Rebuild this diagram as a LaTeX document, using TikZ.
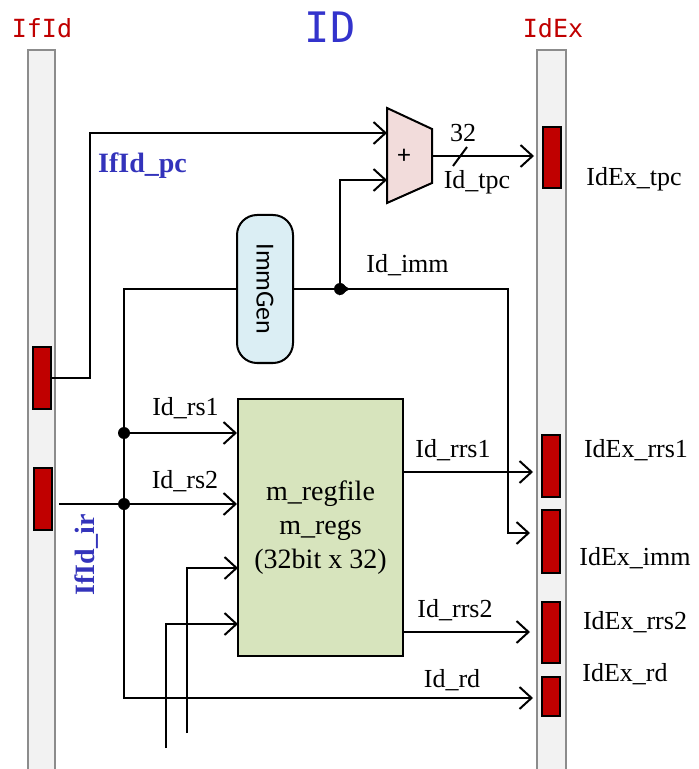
\documentclass[tikz,border=0pt]{standalone}
\usepackage{fontspec}
\setmainfont{Liberation Serif}
\newfontfamily\monof{DejaVu Sans Mono}
\newfontfamily\calf{Carlito}
\usetikzlibrary{arrows.meta,calc}
\definecolor{regred}{HTML}{C00000}
\definecolor{rfgreen}{HTML}{D7E4BD}
\definecolor{immblue}{HTML}{DBEEF4}
\definecolor{addpink}{HTML}{F2DCDB}
\definecolor{barfill}{HTML}{F2F2F2}
\definecolor{barline}{HTML}{8C8C8C}
\definecolor{lblblue}{HTML}{3333BB}
\definecolor{titleblue}{HTML}{3333CC}
\begin{document}
\begin{tikzpicture}[x=0.5pt,y=-0.5pt,
  wire/.style={line width=1pt},
  arr/.style={wire,-{Straight Barb[length=6pt,width=11pt]}},
  bar/.style={draw=barline,fill=barfill,line width=1pt},
  reg/.style={draw=black,fill=regred,line width=1pt,minimum width=9pt,inner sep=0pt},
  lbl/.style={font=\fontsize{13}{15}\selectfont,inner sep=0pt},
  bluelbl/.style={font=\bfseries\fontsize{14}{16}\selectfont,text=lblblue,inner sep=0pt},
  dot/.style={circle,fill=black,minimum size=6pt,inner sep=0pt},
  title/.style={font=\monof\fontsize{12.5}{14}\selectfont,text=regred,inner sep=0pt}
]
\useasboundingbox (0,0) rectangle (699,769);
% pipeline bars
\draw[bar] (28,50) rectangle (55,785);
\draw[bar] (537,50) rectangle (566,785);
% titles
\node[title] (tifid) at (42,28) {IfId};
\node[title] (tidex) at (553,28) {IdEx};
\node[font=\monof\fontsize{21}{24}\selectfont,text=titleblue,inner sep=0pt] (tid) at (330,27) {ID};
% registers
\node[reg,minimum height=31pt] (ifpc) at (42,378) {};
\node[reg,minimum height=31pt] (ifir) at (43,499) {};
\node[reg,minimum height=30.5pt] (extpc) at (551.5,157.5) {};
\node[reg,minimum height=31pt] (exrrs1) at (551,466) {};
\node[reg,minimum height=31.5pt] (eximm) at (551,541.5) {};
\node[reg,minimum height=30.5pt] (exrrs2) at (551,632.5) {};
\node[reg,minimum height=19.5pt] (exrd) at (551,696.5) {};
% register file
\node[draw,fill=rfgreen,line width=1pt,minimum width=82.5pt,minimum height=128.5pt,
  align=center,font=\fontsize{14}{17}\selectfont] (rf) at (320.5,527.5)
  {m\_regfile\\m\_regs\\(32bit x 32)};
% ImmGen
\node[draw,fill=immblue,line width=1pt,rounded corners=10pt,minimum width=28pt,
  minimum height=74pt,inner sep=0pt] (imm) at (265,289) {};
\node[rotate=-90,font=\calf\fontsize{13}{15}\selectfont,inner sep=0pt] (immtxt) at (imm.center) {ImmGen};
% adder
\draw[fill=addpink,line width=1pt] (387,108) -- (432,129) -- (432,183) -- (387,203) -- cycle;
\node[font=\calf\fontsize{13}{15}\selectfont,inner sep=0pt] (add) at (404,156) {+};
\coordinate (addA) at (387,133);
\coordinate (addB) at (387,180);
\coordinate (addO) at (432,156);
% IfId_pc to adder
\coordinate (pcup) at (90,133);
\draw[arr] (ifpc.east) -| (pcup) -- (addA);
% adder output
\coordinate (tpcend) at (534,156);
\draw[arr] (addO) -- (tpcend);
\draw[wire] (453,166) -- (467,147);
% IfId_ir
\coordinate (irst) at (59,504);
\coordinate (rs2end) at (237,504);
\draw[arr] (irst) -- (rs2end);
% bus
\coordinate (busbot) at (124,698);
\coordinate (rdend) at (533,698);
\draw[arr] (imm.west) -| (busbot) -- (rdend);
\node[dot] (d1) at (124,433) {};
\node[dot] (d2) at (124,504) {};
\draw[arr] (d1.center) -- (d1 -| rf.west);
% imm out
\node[dot] (j) at (340,289) {};
\fill (339,282.5) -- (350,289) -- (339,295.5) -- cycle;
\coordinate (immR) at (508,289);
\coordinate (immend) at (530,533);
\draw[wire] (imm.east) -- (j.center);
\draw[arr] (j.center) -- (immR) |- (immend);
\draw[arr] (j.center) |- (addB);
% regfile outputs
\coordinate (rrs1end) at (533,472);
\coordinate (rrs2end) at (530,632);
\draw[arr] (rf.east |- rrs1end) -- (rrs1end);
\draw[arr] (rf.east |- rrs2end) -- (rrs2end);
% bottom inputs
\coordinate (wA) at (187,733);
\coordinate (wAe) at (238,568);
\coordinate (wB) at (166,748);
\coordinate (wBe) at (238,624);
\draw[arr] (wA) |- (wAe);
\draw[arr] (wB) |- (wBe);
% labels
\node[bluelbl] (pclbl) at (142.5,166) {IfId\_pc};
\node[bluelbl,rotate=90] (irlbl) at (87,555) {IfId\_ir};
\node[lbl] (l32) at (463,133) {32};
\node[lbl] (ltpc) at (477,182) {Id\_tpc};
\node[lbl] (limm) at (407.5,265) {Id\_imm};
\node[lbl] (lrs1) at (185.5,408) {Id\_rs1};
\node[lbl] (lrs2) at (185,481) {Id\_rs2};
\node[lbl] (lrrs1) at (453,450) {Id\_rrs1};
\node[lbl] (lrrs2) at (455,610) {Id\_rrs2};
\node[lbl] (lrd) at (452,680) {Id\_rd};
\node[lbl] (xtpc) at (634,179) {IdEx\_tpc};
\node[lbl] (xrrs1) at (636,450) {IdEx\_rrs1};
\node[lbl] (ximm) at (635,558) {IdEx\_imm};
\node[lbl] (xrrs2) at (635,622) {IdEx\_rrs2};
\node[lbl] (xrd) at (625,674) {IdEx\_rd};
\end{tikzpicture}
\end{document}
